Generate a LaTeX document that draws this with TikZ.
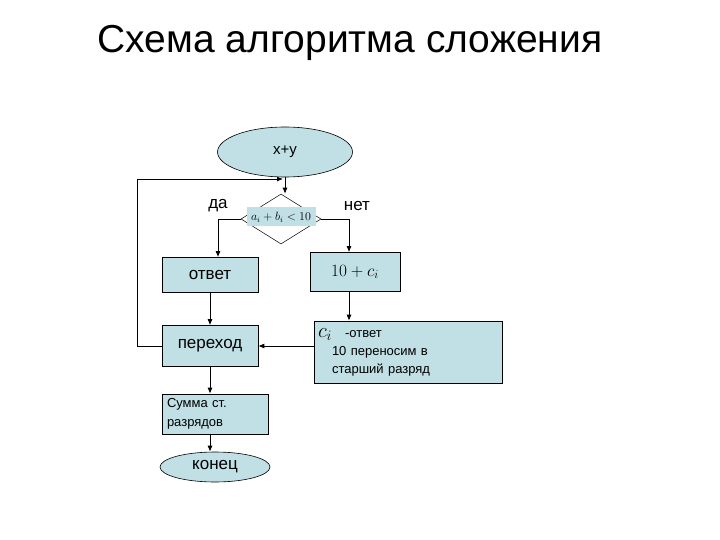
\documentclass[tikz,border=0pt]{standalone}
\usepackage{fontspec}
\setmainfont{Liberation Sans}
\usetikzlibrary{positioning, arrows.meta, shapes.geometric}
\definecolor{boxblue}{RGB}{192,224,230}

\begin{document}
\begin{tikzpicture}[
    x=1pt, y=-1pt,
    every node/.style={font=\fontsize{17}{20}\selectfont}, % text size of the slide
    block/.style={draw, fill=boxblue, line width=0.6pt, inner sep=2pt},
    flow/.style={-{Latex[length=6pt,width=5pt]}, line width=0.9pt}
]
    \useasboundingbox (0,0) rectangle (720,540);

    % Place the nodes
    \node (title) at (350,43) {\fontsize{39}{42}\selectfont Схема алгоритма сложения};

    \node (start) [block, ellipse, minimum width=135, minimum height=50,
        font=\fontsize{15}{18}\selectfont] at (285,152) {x+y};
    \node (cond) [diamond, draw, line width=0.5pt, minimum width=80,
        minimum height=50, inner sep=0pt] at (281,219) {};
    \node (condtext) [fill=boxblue, minimum width=69, minimum height=19,
        inner sep=0pt, font=\fontsize{11.5}{14}\selectfont] at (281,217) {$a_i+b_i<10$};
    \coordinate (loop) at (283,179);

    \node (yes) at (218,206) {да};
    \node (no) at (357,206) {нет};

    \node (otvet) [block, minimum width=96, minimum height=35] at (210,275) {ответ};
    \node (sum10) [block, minimum width=90, minimum height=39,
        font=\fontsize{18}{20}\selectfont] at (355,272) {$10+c_i$};
    \node (perehod) [block, minimum width=96, minimum height=41] at (210,346) {переход};
    \node (carry) [block, minimum width=188, minimum height=62, text width=180,
        align=left, font=\fontsize{13}{18}\selectfont] at (408,352)
        {{\fontsize{20}{18}\selectfont$c_i$}\quad -ответ\\
         \hspace*{14pt}10 переносим в\\
         \hspace*{14pt}старший разряд};
    \node (summa) [block, minimum width=106, minimum height=40, text width=96,
        align=left, font=\fontsize{13}{19}\selectfont] at (215,414)
        {Сумма ст.\\разрядов};
    \node (end) [block, ellipse, minimum width=110, minimum height=30] at (215,467) {конец};

    % Draw the edges
    \draw [flow] (start) -- (start.south |- cond.north);
    \draw [flow] (cond.west) -| ([xshift=8pt]otvet.north);
    \draw [flow] (cond.east) -| ([xshift=-6pt]sum10.north);
    \draw [flow] (otvet) -- (perehod);
    \draw [flow] ([xshift=-6pt]sum10.south) -- ([xshift=-6pt]sum10.south |- carry.north);
    \draw [flow] (carry.west |- perehod.east) -- (perehod.east);
    \draw [flow] (perehod.south) -- (perehod.south |- summa.north);
    \draw [flow] (perehod.south |- summa.south) -- (perehod.south |- end.north);

    % back to the condition
    \draw [flow] (perehod.west) -- ++(-24,0) |- (loop);
\end{tikzpicture}
\end{document}
